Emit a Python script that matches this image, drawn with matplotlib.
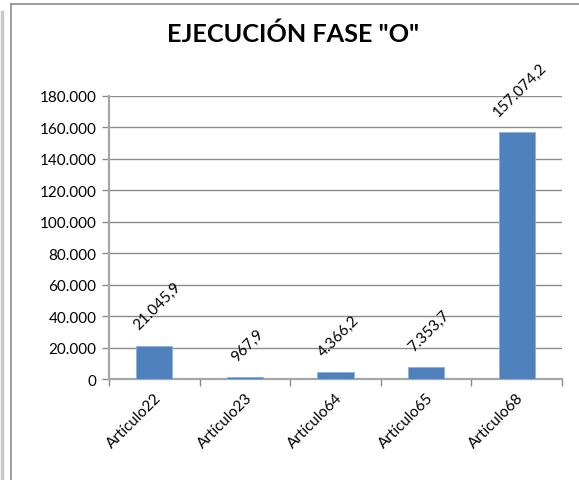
import matplotlib
matplotlib.use("Agg")
import matplotlib.pyplot as plt
from matplotlib.lines import Line2D
from matplotlib.ticker import FuncFormatter, MultipleLocator

categories = ["Artículo22", "Artículo23", "Artículo64", "Artículo65", "Artículo68"]
values = [21045.9, 967.9, 4366.2, 7353.7, 157074.2]
value_labels = ["21.045,9", "967,9", "4.366,2", "7.353,7", "157.074,2"]
title = 'EJECUCIÓN FASE "O"'

plt.rcParams['font.family'] = ['Lato', 'DejaVu Sans']

W, H = 579, 481
fig = plt.figure(figsize=(W / 100, H / 100), dpi=100)
fig.patch.set_facecolor("white")

# outer frame lines
fig.add_artist(Line2D([2 / W, 2 / W], [0, 1 - 13 / H], color="#c8c8c8", lw=2.5))
fig.add_artist(Line2D([11 / W, 11 / W], [0, 1 - 5 / H], color="#8c8c8c", lw=1.2))
fig.add_artist(Line2D([11 / W, 1], [1 - 5 / H, 1 - 5 / H], color="#8c8c8c", lw=1.2))

ax = fig.add_axes([109 / W, 1 - 380 / H, 453 / W, 283 / H])
x = list(range(len(categories)))
ax.bar(x, values, width=0.4, color="#4F81BD", edgecolor="#8fb0d8", linewidth=0.6, zorder=3)

ax.set_xlim(-0.5, len(categories) - 0.5)
ax.set_ylim(0, 180000)
ax.yaxis.set_major_locator(MultipleLocator(20000))
ax.yaxis.set_major_formatter(FuncFormatter(lambda v, p: f"{int(v):,}".replace(",", ".")))
ax.grid(axis="y", color="#8c8c8c", lw=1.0, zorder=0)

ax.set_xticks([i - 0.5 for i in range(len(categories) + 1)], minor=False)
ax.set_xticklabels([])
ax.set_xticks(x, minor=True)
ax.set_xticklabels(categories, minor=True, rotation=45, ha="right", va="top",
                   rotation_mode="anchor", fontsize=11)
ax.tick_params(axis="x", which="minor", length=0, pad=8)
ax.tick_params(axis="x", which="major", length=5, color="#8c8c8c", width=1.0)
ax.tick_params(axis="y", length=5, color="#8c8c8c", width=1.0, labelsize=11, pad=4)

for s in ["top", "right"]:
    ax.spines[s].set_visible(False)
ax.spines["left"].set_color("#a6a6a6")
ax.spines["left"].set_linewidth(1.6)
ax.spines["bottom"].set_color("#a6a6a6")
ax.spines["bottom"].set_linewidth(1.6)

for xi, v, lab in zip(x, values, value_labels):
    ax.annotate(lab, (xi, v), xytext=(2, 10), textcoords="offset points",
                rotation=45, ha="center", va="bottom", fontsize=11,
                annotation_clip=False)

fig.text(293 / W, 1 - 34 / H, title, ha="center", va="center",
         fontsize=18.2, fontweight="bold")

fig.savefig("out.png", dpi=100)
